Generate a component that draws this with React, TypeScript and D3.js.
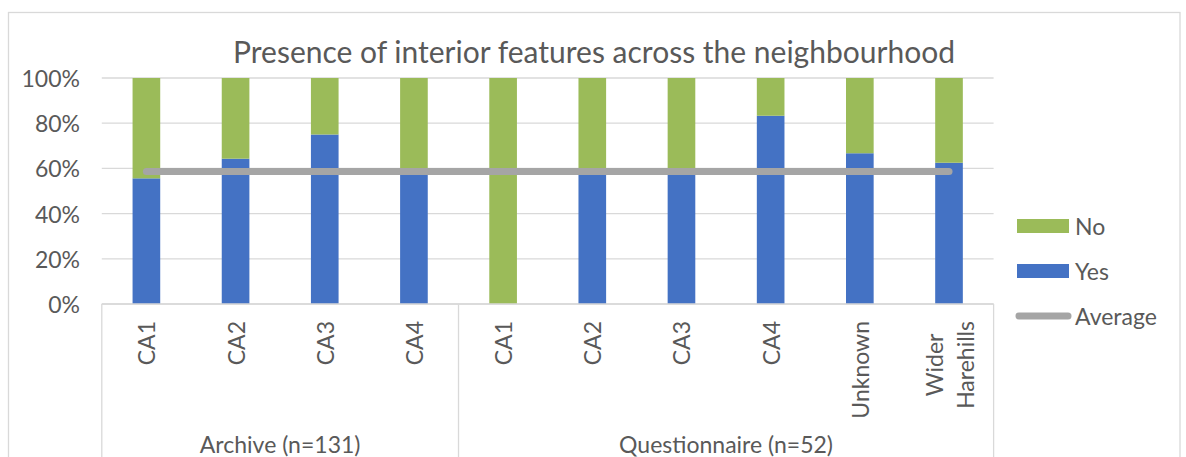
import React, { useEffect, useRef } from "react";
import * as d3 from "d3";

// Category labels (sub-categories) and their parent groups
const categories = ["CA1", "CA2", "CA3", "CA4", "CA1", "CA2", "CA3", "CA4", "Unknown", "Wider\nHarehills"];
const groups = [
  { label: "Archive (n=131)", start: 0, end: 4 },
  { label: "Questionnaire (n=52)", start: 4, end: 10 },
];
// Share of properties with interior features (percent)
const yesValues = [55.6, 64.3, 75, 60, 0, 57.1, 57.1, 83.3, 66.7, 62.5];
const noValues = yesValues.map((v) => 100 - v);
const averageValue = 58.6;
const yTicks = [0, 20, 40, 60, 80, 100];

const W = 1186;
const H = 457;
const FONT = "Lato, Carlito, 'Open Sans', sans-serif";
const TEXT = "#595959";
const GRID = "#d9d9d9";
const GREEN = "#9bbb59";
const BLUE = "#4472c4";
const GREY = "#a5a5a5";

export default function App() {
  const ref = useRef<SVGSVGElement | null>(null);

  useEffect(() => {
    const svg = d3.select(ref.current);
    svg.selectAll("*").remove();

    const left = 101.8, right = 993.6, top = 78, bottom = 304;
    const x = d3.scaleBand<number>().domain(d3.range(categories.length)).range([left, right]);
    const y = d3.scaleLinear().domain([0, 100]).range([bottom, top]);
    const barW = x.bandwidth() * 0.31;
    const cx = (i: number) => (x(i) as number) + x.bandwidth() / 2;

    // chart frame
    svg.append("rect")
      .attr("x", 8.5).attr("y", 12.5).attr("width", 1171.5).attr("height", H)
      .attr("fill", "#fff").attr("stroke", GRID).attr("stroke-width", 1.3);

    // title
    svg.append("text")
      .attr("x", 594).attr("y", 63)
      .attr("text-anchor", "middle")
      .attr("font-family", FONT).attr("font-size", 30).attr("fill", TEXT)
      .text("Presence of interior features across the neighbourhood");

    // gridlines + y tick labels
    const gy = svg.append("g");
    yTicks.forEach((t) => {
      gy.append("line")
        .attr("x1", left).attr("x2", right).attr("y1", y(t)).attr("y2", y(t))
        .attr("stroke", GRID).attr("stroke-width", 1.3);
      gy.append("text")
        .attr("x", 80).attr("y", y(t))
        .attr("text-anchor", "end").attr("dominant-baseline", "central")
        .attr("font-family", FONT).attr("font-size", 23).attr("fill", TEXT)
        .text(`${t}%`);
    });

    // stacked bars
    const bars = svg.append("g");
    categories.forEach((_, i) => {
      const yes = yesValues[i];
      const no = noValues[i];
      if (yes > 0) {
        bars.append("rect")
          .attr("x", cx(i) - barW / 2).attr("width", barW)
          .attr("y", y(yes)).attr("height", y(0) - y(yes))
          .attr("fill", BLUE);
      }
      if (no > 0) {
        bars.append("rect")
          .attr("x", cx(i) - barW / 2).attr("width", barW)
          .attr("y", y(yes + no)).attr("height", y(yes) - y(yes + no))
          .attr("fill", GREEN);
      }
    });

    // category axis (multi-level)
    const ax = svg.append("g");
    ax.append("line")
      .attr("x1", left).attr("x2", right).attr("y1", bottom).attr("y2", bottom)
      .attr("stroke", GRID).attr("stroke-width", 1.3);
    const bounds = [left, ...groups.map((g) => (x(g.end - 1) as number) + x.bandwidth())];
    bounds.forEach((bx) => {
      ax.append("line")
        .attr("x1", bx).attr("x2", bx).attr("y1", bottom).attr("y2", H)
        .attr("stroke", GRID).attr("stroke-width", 1.3);
    });

    const lineGap = 31;
    categories.forEach((c, i) => {
      const lines = c.split("\n");
      const g = ax.append("g");
      const texts = lines.map((ln, k) =>
        g.append("text")
          .attr("font-family", FONT).attr("font-size", 23).attr("fill", TEXT)
          .attr("text-anchor", "middle").attr("dominant-baseline", "central")
          .attr("transform", `translate(${cx(i) + (k - (lines.length - 1) / 2) * lineGap},0) rotate(-90)`)
          .text(ln)
      );
      const maxLen = d3.max(texts, (t) => (t.node() as SVGTextElement).getComputedTextLength()) || 0;
      // block is top-aligned just under the axis, lines centred within it
      g.attr("transform", `translate(0,${bottom + 17 + maxLen / 2})`);
    });

    groups.forEach((gr) => {
      const x0 = x(gr.start) as number;
      const x1 = (x(gr.end - 1) as number) + x.bandwidth();
      ax.append("text")
        .attr("x", (x0 + x1) / 2).attr("y", 453)
        .attr("text-anchor", "middle")
        .attr("font-family", FONT).attr("font-size", 23).attr("fill", TEXT)
        .text(gr.label);
    });

    // average line
    svg.append("line")
      .attr("x1", cx(0)).attr("x2", cx(categories.length - 1))
      .attr("y1", y(averageValue)).attr("y2", y(averageValue))
      .attr("stroke", GREY).attr("stroke-width", 7).attr("stroke-linecap", "round");

    // legend
    const lg = svg.append("g");
    const legendItems = [
      { label: "No", kind: "rect", color: GREEN, y: 226 },
      { label: "Yes", kind: "rect", color: BLUE, y: 271 },
      { label: "Average", kind: "line", color: GREY, y: 316 },
    ];
    legendItems.forEach((it) => {
      if (it.kind === "rect") {
        lg.append("rect")
          .attr("x", 1017).attr("y", it.y - 7).attr("width", 52).attr("height", 14)
          .attr("fill", it.color);
      } else {
        lg.append("line")
          .attr("x1", 1019).attr("x2", 1068).attr("y1", it.y).attr("y2", it.y)
          .attr("stroke", it.color).attr("stroke-width", 7).attr("stroke-linecap", "round");
      }
      lg.append("text")
        .attr("x", 1075).attr("y", it.y)
        .attr("dominant-baseline", "central")
        .attr("font-family", FONT).attr("font-size", 23).attr("fill", TEXT)
        .text(it.label);
    });
  }, []);

  return (
    <svg
      ref={ref}
      width={W}
      height={H}
      style={{ position: "absolute", left: 0, top: 0, background: "#fff" }}
    />
  );
}
